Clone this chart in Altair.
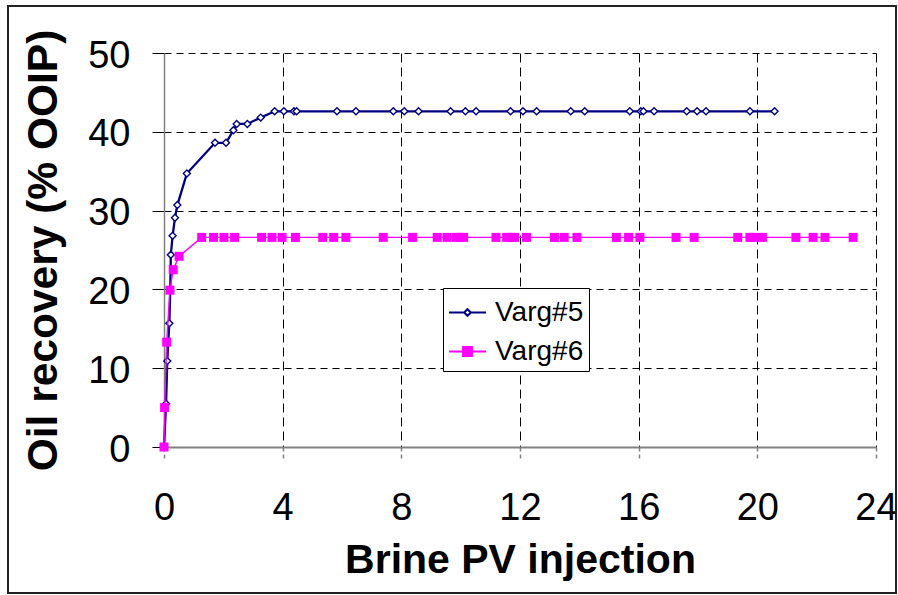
import altair as alt
import pandas as pd

series_names = ["Varg#5", "Varg#6"]
series_colors = ["#000080", "#FF00FF"]

v5_x = [0, 0.07, 0.11, 0.18, 0.21, 0.23, 0.29, 0.37, 0.45, 0.77, 1.72, 2.09, 2.34, 2.45,
        2.81, 3.26, 3.73, 4.04, 4.38, 4.47, 5.83, 6.47, 7.73, 8.10, 8.58, 9.66, 10.16,
        10.52, 11.68, 12.10, 12.56, 13.71, 14.18, 15.70, 16.07, 16.16, 16.52, 17.62,
        17.97, 18.27, 19.75, 20.58]
v5_y = [0, 5.5, 10.9, 15.7, 19.8, 24.4, 26.8, 29.1, 30.7, 34.7, 38.6, 38.6, 40.2, 41.0,
        41.0, 41.8, 42.6, 42.6, 42.6, 42.6, 42.6, 42.6, 42.6, 42.6, 42.6, 42.6, 42.6,
        42.6, 42.6, 42.6, 42.6, 42.6, 42.6, 42.6, 42.6, 42.6, 42.6, 42.6,
        42.6, 42.6, 42.6, 42.6]

v6_x = [0, 0.02, 0.09, 0.20, 0.31, 0.51, 1.27, 1.67, 2.02, 2.38, 3.29, 3.64, 3.98, 4.43,
        5.35, 5.72, 6.13, 7.39, 8.38, 9.21, 9.54, 9.85, 9.97, 10.10, 11.19, 11.55, 11.68,
        11.82, 12.22, 13.16, 13.49, 13.92, 15.25, 15.66, 16.04, 17.26, 17.87, 19.34,
        19.75, 19.88, 20.17, 21.30, 21.88, 22.28, 23.23]
v6_y = [0, 5.0, 13.3, 19.9, 22.5, 24.2, 26.6, 26.6, 26.6, 26.6, 26.6, 26.6, 26.6, 26.6,
        26.6, 26.6, 26.6, 26.6, 26.6, 26.6, 26.6, 26.6, 26.6, 26.6, 26.6, 26.6, 26.6,
        26.6, 26.6, 26.6, 26.6, 26.6, 26.6, 26.6, 26.6, 26.6, 26.6, 26.6,
        26.6, 26.6, 26.6, 26.6, 26.6, 26.6, 26.6]

x_ticks = [0, 4, 8, 12, 16, 20, 24]
y_ticks = [0, 10, 20, 30, 40, 50]

df5 = pd.DataFrame({"pv": v5_x, "rec": v5_y, "series": series_names[0]})
df6 = pd.DataFrame({"pv": v6_x, "rec": v6_y, "series": series_names[1]})
df = pd.concat([df5, df6], ignore_index=True)
df["ord"] = range(len(df))

FONT = "Liberation Sans"
W, H = 712, 394

x_axis = alt.Axis(
    values=x_ticks, title="Brine PV injection", grid=True, gridColor="#000000",
    gridDash=[9, 5], gridWidth=1, domainColor="#808080", domainWidth=2,
    tickColor="#808080", tickDash=[4, 3], tickSize=12, tickWidth=1.5,
    labelFont=FONT, labelFontSize=38, labelColor="black", labelPadding=30,
    labelBaseline="top", labelFlush=False,
    titleFont=FONT, titleFontSize=41, titleFontWeight="bold", titleColor="black",
    titleX=W / 2, titleY=125, titleAlign="center", titleBaseline="alphabetic",
)
y_axis = alt.Axis(
    values=y_ticks, title="Oil recovery (% OOIP)", grid=True, gridColor="#000000",
    gridDash=[7, 5], gridWidth=1, domainColor="#808080", domainWidth=1.5,
    tickColor="#000000", tickSize=12, tickWidth=1,
    labelFont=FONT, labelFontSize=38, labelColor="black", labelPadding=22,
    labelOffset=3, labelFlush=False,
    titleFont=FONT, titleFontSize=42.5, titleFontWeight="bold", titleColor="black",
    titleAngle=270, titleX=-108, titleY=H / 2, titleAlign="center",
    titleBaseline="alphabetic",
)

x_enc = alt.X("pv:Q", scale=alt.Scale(domain=[0, 24], nice=False), axis=x_axis)
y_enc = alt.Y("rec:Q", scale=alt.Scale(domain=[0, 50], nice=False), axis=y_axis)

base = alt.Chart(df).encode(x=x_enc, y=y_enc, order=alt.Order("ord:Q"))

line6 = base.transform_filter(alt.datum.series == series_names[1]).mark_line(
    color=series_colors[1], strokeWidth=1.4)
pts6 = base.transform_filter(alt.datum.series == series_names[1]).mark_point(
    shape="square", filled=True, color=series_colors[1], size=81, opacity=1)
line5 = base.transform_filter(alt.datum.series == series_names[0]).mark_line(
    color=series_colors[0], strokeWidth=2.3)
pts5 = base.transform_filter(alt.datum.series == series_names[0]).mark_point(
    shape="diamond", filled=True, fill="white", stroke=series_colors[0],
    strokeWidth=1.4, size=49, opacity=1)

sym5 = "M-1,0H-0.18M0.18,0H1M0,-0.18L0.18,0L0,0.18L-0.18,0Z"
sym6 = "M-1,0H1M-0.24,-0.24H0.24V0.24H-0.24Z"

leg = alt.Legend(
    title=None, orient="none", legendX=279, legendY=235, padding=5,
    strokeColor="black", fillColor="white", cornerRadius=0,
    labelFont=FONT, labelFontSize=28, labelColor="black", labelOffset=8,
    symbolSize=1369, symbolStrokeWidth=2, symbolOpacity=1, rowPadding=5,
)

legend_layer = base.mark_point(opacity=0, filled=False).encode(
    color=alt.Color("series:N", scale=alt.Scale(domain=series_names, range=series_colors), legend=leg),
    fill=alt.Fill("series:N", scale=alt.Scale(domain=series_names, range=["white", series_colors[1]]), legend=leg),
    shape=alt.Shape("series:N", scale=alt.Scale(domain=series_names, range=[sym5, sym6]), legend=leg),
)

border = alt.Chart(alt.Data(values=[{"a": 1}])).mark_rect(
    fill=None, stroke="#222222", strokeWidth=2
).encode(x=alt.value(-156), x2=alt.value(732), y=alt.value(-47), y2=alt.value(540))

chart = alt.layer(border, line5, pts5, line6, pts6, legend_layer).properties(
    width=W, height=H,
    autosize=alt.AutoSizeParams(type="none"),
    padding={"left": 164, "top": 53, "right": 22, "bottom": 148},
    background="white",
).configure_view(stroke=None)

chart.save("out.html", embed_options={"renderer": "svg", "actions": False})
